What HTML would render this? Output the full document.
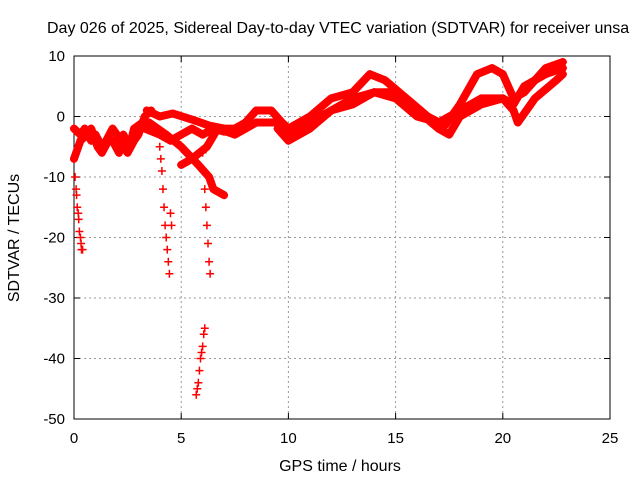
<!DOCTYPE html>
<html><head><meta charset="utf-8"><style>
body{margin:0;background:#fff}
svg{display:block;font-family:"Liberation Sans",sans-serif}
</style></head><body>
<svg id="chart" width="640" height="480" viewBox="0 0 640 480">
<text x="47" y="33" font-size="16" fill="#000">Day 026 of 2025, Sidereal Day-to-day VTEC variation (SDTVAR) for receiver unsa</text>
<g id="grid"></g>
<g id="axes"></g>
<g id="series"></g>
<text x="340" y="471" font-size="16" text-anchor="middle">GPS time / hours</text>
<text x="0" y="0" font-size="16" text-anchor="middle" transform="translate(19,238) rotate(-90)">SDTVAR / TECUs</text>
</svg>
<script>
const xTicks=[0,5,10,15,20,25];
const yTicks=[10,0,-10,-20,-30,-40,-50];
// dense tracks: [t, v] pairs
const track1=[[0,-2],[0.3,-3],[0.5,-2],[0.8,-4],[1,-3],[1.3,-5],[1.5,-4],[1.8,-2],[2,-3],[2.3,-5],[2.5,-6],[2.8,-4],[3,-3],[3.3,0],[3.6,1]];
const track2=[[0,-7],[0.3,-4],[0.6,-3],[0.8,-2],[1.1,-5],[1.3,-6],[1.6,-4],[1.8,-4],[2.1,-6],[2.3,-3],[2.6,-5],[2.8,-2],[3.2,-1]];
const track3=[[3.4,1],[4,0],[4.6,0.5],[5.5,-0.5],[6.3,-1.5],[7,-2],[7.5,-2],[8,-1],[8.5,1],[9.2,1],[9.7,-1],[10,-2],[11,0],[12,3],[13,4],[13.8,7],[14.5,6],[15.5,3],[16.5,0],[17.3,-1.5],[18,2],[18.8,7],[19.5,8],[20,7],[20.5,3],[21,4],[22,8],[22.8,9]];
const track4=[[3.5,-1],[4.3,-3],[5,-5],[5.8,-8],[6.3,-10],[6.5,-12],[7,-13]];
const track5=[[5,-8],[5.5,-7],[6.2,-5],[6.7,-2],[7.5,-3],[8.5,-1],[9.5,-1],[10,-3],[11,-1],[12,1],[13,2],[14,4],[15,4],[16,1],[17,-2],[17.5,-3],[18,0],[19,2],[20,3],[20.5,2],[21,5],[22,7],[22.8,8]];
const track6=[[9.5,-2],[10,-4],[11,-2],[12,1],[13,3],[14,4],[15,3],[16,0],[17,-1],[18,1],[19,3],[20,3],[20.5,1],[20.7,-1],[21.5,3],[22.5,6],[22.8,7]];
const track7=[[3.3,-2],[4,-3],[4.5,-4],[5,-3],[5.5,-2],[6,-3],[6.5,-2],[7,-2.5]];
const tracks=[track1,track2,track3,track4,track5,track6,track7];
// sparse dips: [t, v]
const dipTimes=[0.05,0.1,0.12,0.15,0.2,0.22,0.25,0.3,0.33,0.35,0.4,4.0,4.05,4.1,4.15,4.2,4.25,4.3,4.35,4.4,4.45,4.5,4.55,6.0,6.05,6.1,6.15,6.2,6.25,6.3,6.35,5.7,5.75,5.8,5.85,5.9,5.95,6.0,6.05,6.1];
const dipValues=[-10,-12,-13,-15,-16,-17,-19,-20,-21,-22,-22,-5,-7,-9,-12,-15,-18,-20,-22,-24,-26,-16,-18,-6,-9,-12,-15,-18,-21,-24,-26,-46,-45,-44,-42,-40,-39,-38,-36,-35];

const X0=74,X1=610,Y0=419,Y1=56;
const sx=t=>X0+(t-0)/(25-0)*(X1-X0);
const sy=v=>Y0-(v+50)/(60)*(Y0-Y1);
const NS="http://www.w3.org/2000/svg";
function mk(tag,attrs,parent){const e=document.createElementNS(NS,tag);for(const k in attrs)e.setAttribute(k,attrs[k]);parent.appendChild(e);return e;}
const grid=document.getElementById('grid'),axes=document.getElementById('axes'),ser=document.getElementById('series');
xTicks.forEach(t=>{
  if(t>0&&t<25){const l=mk('line',{x1:sx(t),x2:sx(t),y1:Y1,y2:Y0,stroke:'#999','stroke-dasharray':'2,3'},grid);
  
  }
  const tx=mk('text',{x:sx(t),y:Y0+24,'font-size':15,'text-anchor':'middle'},axes);tx.textContent=t;
  
  
  mk('line',{x1:sx(t),x2:sx(t),y1:Y0,y2:Y0-6,stroke:'#000'},axes);
  mk('line',{x1:sx(t),x2:sx(t),y1:Y1,y2:Y1+6,stroke:'#000'},axes);
});
yTicks.forEach(v=>{
  if(v>-50&&v<10){const l=mk('line',{x1:X0,x2:X1,y1:sy(v),y2:sy(v),stroke:'#999','stroke-dasharray':'2,3'},grid);
  
  }
  const tx=mk('text',{x:X0-9,y:sy(v)+5,'font-size':15,'text-anchor':'end'},axes);tx.textContent=v;
  
  
  mk('line',{x1:X0,x2:X0+6,y1:sy(v),y2:sy(v),stroke:'#000'},axes);
  mk('line',{x1:X1,x2:X1-6,y1:sy(v),y2:sy(v),stroke:'#000'},axes);
});
mk('rect',{x:X0,y:Y1,width:X1-X0,height:Y0-Y1,fill:'none',stroke:'#000'},axes);
function plus(t,v){const x=sx(t),y=sy(v);
  const p=mk('path',{d:`M${x-4},${y}H${x+4}M${x},${y-4}V${y+4}`,stroke:'#f00','stroke-width':1.5},ser);
  
  }
tracks.forEach(tr=>{
  const pl=mk('polyline',{points:tr.map(p=>sx(p[0])+','+sy(p[1])).join(' '),fill:'none',stroke:'#f00','stroke-width':8,'stroke-linejoin':'round','stroke-linecap':'round'},ser);
  
  
  tr.forEach(p=>plus(p[0],p[1]));
});
dipTimes.forEach((t,i)=>plus(t,dipValues[i]));
</script>
</body></html>
